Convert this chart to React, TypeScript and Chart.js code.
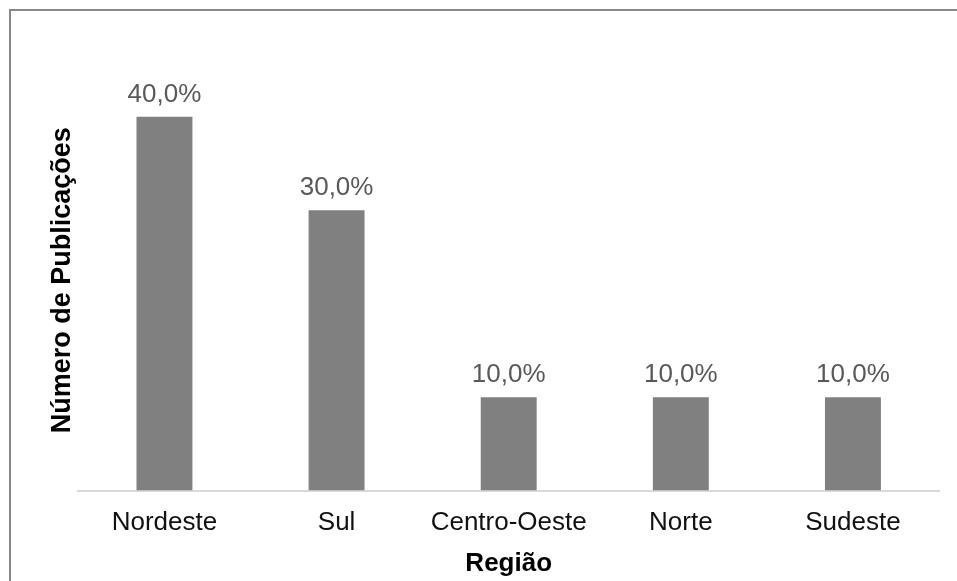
import React, { useEffect, useRef } from "react";
import { Chart, registerables } from "chart.js";

Chart.register(...registerables);

const categories = ["Nordeste", "Sul", "Centro-Oeste", "Norte", "Sudeste"];
const values = [40, 30, 10, 10, 10];
const yTitle = "Número de Publicações";
const xTitle = "Região";

const FONT = "'Liberation Sans', Arial, sans-serif";

const formatPct = (v: number) => v.toFixed(1).replace(".", ",") + "%";

const dataLabelPlugin = {
  id: "dataLabels",
  afterDatasetsDraw(chart: any) {
    const ctx = chart.ctx;
    const meta = chart.getDatasetMeta(0);
    ctx.save();
    ctx.font = `26px ${FONT}`;
    ctx.fillStyle = "#595959";
    ctx.textAlign = "center";
    ctx.textBaseline = "alphabetic";
    meta.data.forEach((bar: any, i: number) => {
      const v = chart.data.datasets[0].data[i] as number;
      ctx.fillText(formatPct(v), bar.x, bar.y - 15);
    });
    ctx.restore();
  },
};

export default function App() {
  const canvasRef = useRef<HTMLCanvasElement | null>(null);

  useEffect(() => {
    if (!canvasRef.current) return;
    const chart = new Chart(canvasRef.current, {
      type: "bar",
      data: {
        labels: categories,
        datasets: [
          {
            data: values,
            backgroundColor: "#808080",
            borderWidth: 0,
            barPercentage: 0.325,
            categoryPercentage: 1,
          },
        ],
      },
      options: {
        responsive: false,
        animation: false,
        devicePixelRatio: 1,
        layout: { padding: { left: 46, right: 18, top: 70, bottom: 2 } },
        plugins: {
          legend: { display: false },
          tooltip: { enabled: false },
        },
        scales: {
          x: {
            grid: { display: false, drawTicks: false },
            border: { display: true, color: "#d9d9d9", width: 2 },
            ticks: {
              color: "#111111",
              font: { family: FONT, size: 26 },
              padding: 17,
            },
            title: {
              display: true,
              text: xTitle,
              color: "#000000",
              font: { family: FONT, size: 26, weight: "bold" },
              padding: { top: -8, bottom: 0 },
            },
          },
          y: {
            min: 0,
            max: 45,
            grid: { display: false, drawTicks: false },
            border: { display: false },
            ticks: { display: false },
            title: {
              display: true,
              text: yTitle,
              color: "#000000",
              font: { family: FONT, size: 27, weight: "bold" },
              padding: 0,
            },
          },
        },
      },
      plugins: [dataLabelPlugin],
    });
    return () => chart.destroy();
  }, []);

  return (
    <div
      style={{
        position: "fixed",
        left: 0,
        top: 0,
        width: 957,
        height: 581,
        background: "#ffffff",
        overflow: "hidden",
      }}
    >
      <div
        style={{
          position: "absolute",
          left: 9,
          top: 9,
          width: 1000,
          height: 700,
          borderLeft: "2px solid #888888",
          borderTop: "2px solid #888888",
        }}
      />
      <canvas
        ref={canvasRef}
        width={957}
        height={581}
        style={{ position: "absolute", left: 0, top: 0, width: 957, height: 581 }}
      />
    </div>
  );
}
